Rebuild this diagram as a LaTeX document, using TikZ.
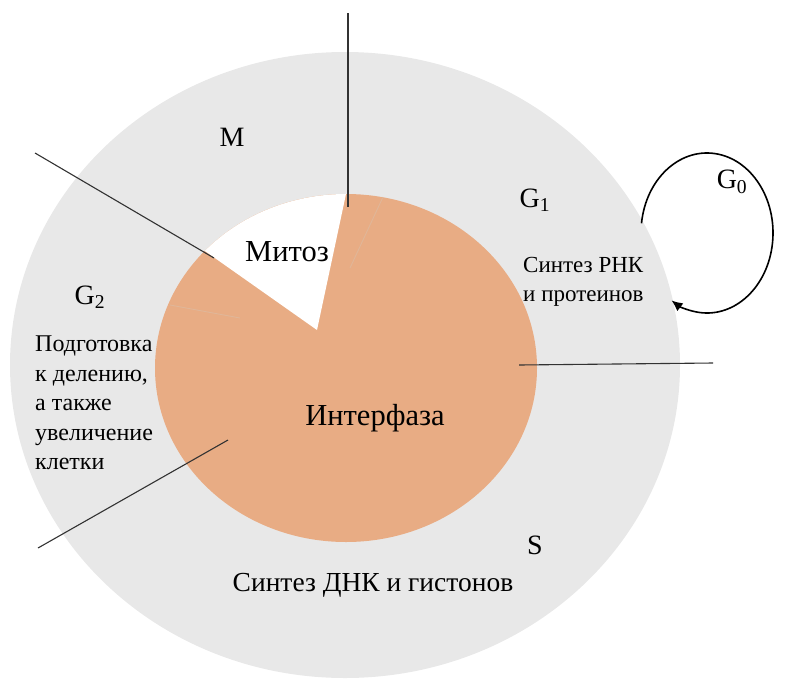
\documentclass[tikz,border=0pt]{standalone}
\usepackage{fontspec}
\setmainfont{Liberation Serif}
\usetikzlibrary{arrows.meta}
\definecolor{ringgray}{RGB}{232,232,232}
\definecolor{interorange}{RGB}{232,172,132}
\definecolor{seamcol}{RGB}{224,182,152}
\definecolor{linegray}{RGB}{50,50,50}
\begin{document}
\begin{tikzpicture}[x=1pt,y=-1pt,
  divider/.style={draw=linegray,line width=1.1pt},
  seamline/.style={draw=seamcol,line width=0.9pt},
  phase/.style={inner sep=0pt,font=\fontsize{28}{32}\selectfont},
  big/.style={inner sep=0pt,font=\fontsize{30.5}{36}\selectfont},
  desc/.style={inner sep=0pt,font=\fontsize{23}{29}\selectfont,align=left},
  loopline/.style={line width=1.6pt,-{Latex[length=11pt,width=10pt]}}]
\useasboundingbox (0,0) rectangle (791,680);
% outer ring
\fill[ringgray] (345,365) ellipse [x radius=335, y radius=313];
% interphase pie
\fill[interorange] (346,368) ellipse [x radius=191, y radius=174];
\coordinate (apex) at (317,330);
\fill[white] (apex) -- ([shift={(346,368)}]222.3:191 and 174)
  arc[start angle=222.3, end angle=270, x radius=191, y radius=174] -- cycle;
% faint slice seams
\coordinate (s1a) at (383,197); \coordinate (s1b) at (350,268);
\coordinate (s2a) at (170,305); \coordinate (s2b) at (240,318);
\draw[seamline] (s1a) -- (s1b);
\draw[seamline] (s2a) -- (s2b);
% dividers
\coordinate (t1) at (348,13);  \coordinate (t2) at (348,207);
\coordinate (l1) at (35,153);  \coordinate (l2) at (214,258);
\coordinate (r1) at (519,365); \coordinate (r2) at (713,363);
\coordinate (b1) at (228,440); \coordinate (b2) at (38,548);
\draw[divider] (t1) -- (t2);
\draw[divider] (l1) -- (l2);
\draw[divider] (r1) -- (r2);
\draw[divider] (b1) -- (b2);
% G0 loop
\coordinate (loopc) at (707,233);
\draw[loopline] ([shift={(707,233)}]187:66 and 80)
  arc[start angle=187, end angle=482.5, x radius=66, y radius=80];
% labels
\node[phase] (m) at (232,137) {M};
\node[phase] (g1) at (535,200) {G\textsubscript{1}};
\node[phase] (g2) at (90,297) {G\textsubscript{2}};
\node[phase] (g0) at (732,182) {G\textsubscript{0}};
\node[phase] (s) at (535,545) {S};
\node[big] (mit) at (287,252) {Митоз};
\node[big] (inter) at (375,418) {Интерфаза};
\node[phase,font=\fontsize{27.5}{32}\selectfont] (sdna) at (373,585) {Синтез ДНК и гистонов};
\node[desc,anchor=west] (srna) at (523,282) {Синтез РНК\\и протеинов};
\node[desc,anchor=west,font=\fontsize{24}{29.5}\selectfont] (prep) at (35,403) {Подготовка\\к делению,\\а также\\увеличение\\клетки};
\end{tikzpicture}
\end{document}
